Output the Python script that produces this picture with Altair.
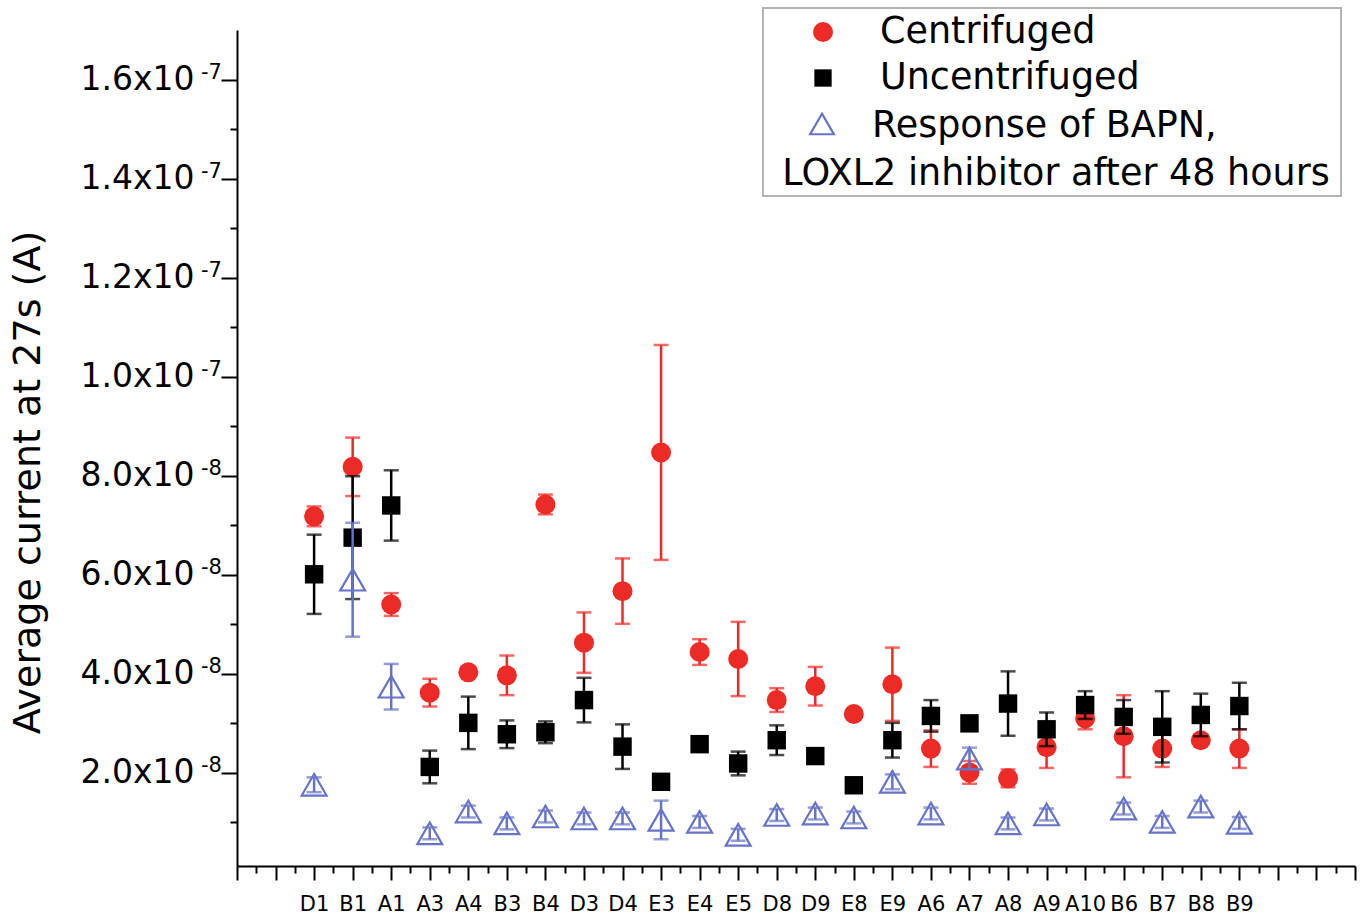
import altair as alt
import pandas as pd

# ---------------- data (values in units of 1e-8 A) ----------------
samples = ["D1", "B1", "A1", "A3", "A4", "B3", "B4", "D3", "D4", "E3", "E4", "E5", "D8",
           "D9", "E8", "E9", "A6", "A7", "A8", "A9", "A10", "B6", "B7", "B8", "B9"]
positions = list(range(2, 27))

cent_mean = [7.18, 8.18, 5.40, 3.62, 4.03, 3.97, 7.42, 4.63, 5.67, 8.47, 4.44, 4.30, 3.47,
             3.75, 3.19, 3.79, 2.49, 2.01, 1.89, 2.52, 3.10, 2.74, 2.49, 2.66, 2.49]
cent_err = [0.20, 0.59, 0.23, 0.28, 0.00, 0.40, 0.20, 0.61, 0.66, 2.17, 0.26, 0.75, 0.24,
            0.39, 0.00, 0.74, 0.37, 0.23, 0.18, 0.42, 0.22, 0.83, 0.37, 0.00, 0.39]

unc_mean = [6.01, 6.75, 7.40, 2.12, 3.01, 2.78, 2.82, 3.47, 2.53, 1.82, 2.58, 2.19, 2.66,
            2.34, 1.75, 2.66, 3.15, 3.00, 3.40, 2.88, 3.37, 3.13, 2.93, 3.17, 3.35]
unc_err = [0.80, 1.24, 0.71, 0.33, 0.53, 0.28, 0.22, 0.45, 0.45, 0.00, 0.00, 0.24, 0.30,
           0.00, 0.00, 0.35, 0.32, 0.00, 0.65, 0.34, 0.28, 0.34, 0.72, 0.43, 0.47]

bapn_mean = [1.76, 5.90, 3.74, 0.78, 1.22, 0.98, 1.12, 1.08, 1.08, 1.05, 1.01, 0.75, 1.15,
             1.18, 1.10, 1.82, 1.18, 2.29, 0.98, 1.16, None, 1.28, 1.01, 1.32, 0.99]
bapn_err = [0.15, 1.15, 0.46, 0.12, 0.12, 0.12, 0.12, 0.12, 0.12, 0.39, 0.12, 0.12, 0.12,
            0.12, 0.12, 0.15, 0.12, 0.22, 0.12, 0.12, None, 0.12, 0.12, 0.12, 0.12]

legend_labels = ["Centrifuged", "Uncentrifuged", "Response of BAPN,",
                 "LOXL2 inhibitor after 48 hours"]
y_title = "Average current at 27s (A)"

RED = "#ec2a26"
BLACK = "#000000"
BLUE = "#6673c6"
FONT = "DejaVu Sans"
UNIT = 1e-8

# y-axis tick values (major every 2e-8, minor every 1e-8)
y_tick_k = list(range(1, 17))
y_major_k = [2, 4, 6, 8, 10, 12, 14, 16]
y_exp = ["-8", "-8", "-8", "-8", "-7", "-7", "-7", "-7"]
x_tick_vals = [h / 2 for h in range(0, 59)]


def frame(means, errs):
    rows = []
    for s, p, m, e in zip(samples, positions, means, errs):
        if m is None:
            continue
        e = e or 0.0
        rows.append({"sample": s, "x": p, "y": m * UNIT,
                     "lo": (m - e) * UNIT, "hi": (m + e) * UNIT, "err": e})
    return pd.DataFrame(rows)


def cap_frame(df):
    d = df[df["err"] > 0]
    a = d[["x", "lo"]].rename(columns={"lo": "v"})
    b = d[["x", "hi"]].rename(columns={"hi": "v"})
    return pd.concat([a, b], ignore_index=True)


x_scale = alt.Scale(domain=[0, 29], nice=False, zero=False)
y_scale = alt.Scale(domain=[0.12 * UNIT, 17 * UNIT], nice=False, zero=False)

names_js = "[" + ",".join("'" + s + "'" for s in samples) + "]"

x_axis = alt.Axis(
    values=x_tick_vals,
    title=None,
    grid=False,
    domainColor="black", domainWidth=2,
    tickColor="black", tickWidth=2,
    tickSize={"condition": {"test": "datum.value % 1 == 0", "value": 14}, "value": 7},
    labelExpr=("(datum.value % 1 == 0 && datum.value >= 2 && datum.value <= 26) ? "
               + names_js + "[datum.value - 2] : ''"),
    labelFont=FONT, labelFontSize=21, labelColor="black",
    labelPadding=13, labelOverlap=False, labelFlush=False, labelBound=False,
)

y_axis = alt.Axis(
    values=[k * UNIT for k in y_tick_k],
    title=y_title,
    titleFont=FONT, titleFontSize=38, titleFontWeight="normal", titleColor="black",
    titleAngle=-90, titleX=-209, titleY=452, titleAlign="center", titleBaseline="middle",
    grid=False,
    domainColor="black", domainWidth=2,
    tickColor="black", tickWidth=2,
    tickSize={"condition": {"test": "round(datum.value * 1e8) % 2 == 0", "value": 16}, "value": 7},
    labelExpr=("round(datum.value * 1e8) % 2 != 0 ? '' : "
               "(datum.value > 9.5e-8 ? format(datum.value * 1e7, '.1f') : "
               "format(datum.value * 1e8, '.1f')) + 'x10'"),
    labelFont=FONT, labelFontSize=33, labelColor="black",
    labelPadding=27, labelOverlap=False, labelFlush=False, labelBound=False,
)


def X(field):
    return alt.X(field, scale=x_scale, axis=x_axis)


def Y(field):
    return alt.Y(field, scale=y_scale, axis=y_axis)


def series_layers(df, color, shape, size, filled, stroke_w):
    caps = cap_frame(df)
    rules = alt.Chart(df[df["err"] > 0]).mark_rule(color=color, strokeWidth=2.5).encode(
        x=X("x:Q"), y=Y("lo:Q"), y2="hi:Q",
    )
    ticks = alt.Chart(caps).mark_tick(color=color, orient="horizontal", size=15,
                                      thickness=2.5).encode(x=X("x:Q"), y=Y("v:Q"))
    if filled:
        pts = alt.Chart(df).mark_point(shape=shape, size=size, filled=True, color=color,
                                       opacity=1)
    else:
        pts = alt.Chart(df).mark_point(shape=shape, size=size, filled=False, color=color,
                                       strokeWidth=stroke_w, opacity=1)
    pts = pts.encode(x=X("x:Q"), y=Y("y:Q"))
    return [rules, ticks, pts]


red_df = frame(cent_mean, cent_err)
blk_df = frame(unc_mean, unc_err)
blu_df = frame(bapn_mean, bapn_err)

layers = []
layers += series_layers(red_df, RED, "circle", 400, True, 0)
layers += series_layers(blk_df, BLACK, "square", 340, True, 0)
layers += series_layers(blu_df, BLUE, "triangle-up", 620, False, 2.2)

# superscript exponents on the y tick labels
exp_df = pd.DataFrame({"v": [k * UNIT for k in y_major_k], "e": y_exp})
exps = alt.Chart(exp_df).mark_text(align="right", baseline="alphabetic", fontSize=21,
                                   font=FONT, color="black", dy=-1).encode(
    x=alt.value(-15),
    y=Y("v:Q"),
    text="e:N",
)
layers.append(exps)

# ---------------- legend (drawn manually, Origin style) ----------------
leg_box = alt.Chart(pd.DataFrame({"k": [0]})).mark_rect(
    fill="white", stroke="#b4b4b4", strokeWidth=2).encode(
    x=alt.value(526), x2=alt.value(1104), y=alt.value(-22), y2=alt.value(166))
layers.append(leg_box)

leg_sym_red = alt.Chart(pd.DataFrame({"k": [0]})).mark_point(
    shape="circle", size=400, filled=True, color=RED, opacity=1).encode(
    x=alt.value(586), y=alt.value(2))
leg_sym_blk = alt.Chart(pd.DataFrame({"k": [0]})).mark_point(
    shape="square", size=300, filled=True, color=BLACK, opacity=1).encode(
    x=alt.value(586), y=alt.value(48))
leg_sym_blu = alt.Chart(pd.DataFrame({"k": [0]})).mark_point(
    shape="triangle-up", size=560, filled=False, color=BLUE, strokeWidth=2.2,
    opacity=1).encode(x=alt.value(585), y=alt.value(94))
layers += [leg_sym_red, leg_sym_blk, leg_sym_blu]

leg_text_pos = [(643, 2, "left"), (643, 48, "left"), (635, 96, "left"), (819, 144, "center")]
for lab, (lx, ly, al) in zip(legend_labels, leg_text_pos):
    t = alt.Chart(pd.DataFrame({"t": [lab]})).mark_text(
        align=al, baseline="middle", font=FONT, fontSize=36.5, color="black").encode(
        x=alt.value(lx), y=alt.value(ly), text="t:N")
    layers.append(t)

chart = alt.layer(*layers).properties(
    width=1118, height=836,
    autosize=alt.AutoSizeParams(type="none"),
    padding={"left": 237, "top": 30, "right": 11, "bottom": 53},
    background="white",
).configure_view(stroke=None)

chart.save("out.html", embed_options={"renderer": "svg", "actions": False})
